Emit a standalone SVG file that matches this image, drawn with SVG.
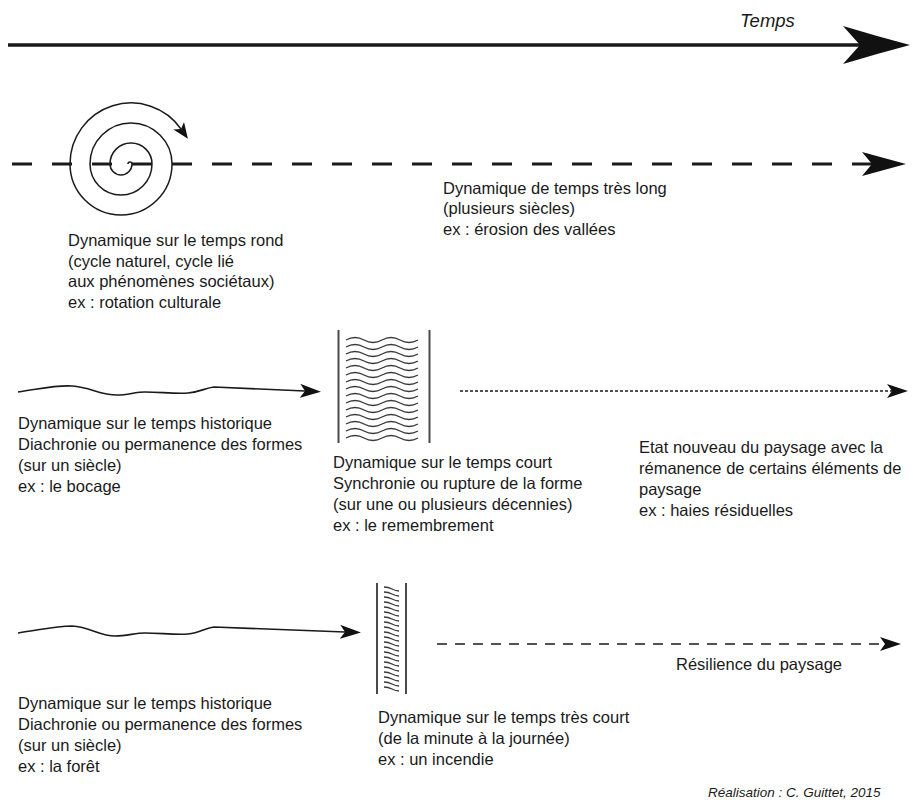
<svg xmlns="http://www.w3.org/2000/svg" width="913" height="802" viewBox="0 0 913 802">
<style>
.t{font-family:"Liberation Sans",Arial,Helvetica,sans-serif;font-size:16.5px;fill:#1a1a1a}
.ti{font-style:italic}
.ln{fill:none;stroke:#1a1a1a;stroke-linecap:butt}
.bar{stroke:#4a4a4a;stroke-width:2;fill:none}
.wv{fill:none;stroke:#3a3a3a;stroke-width:1.3}
.ah{fill:#111}
</style>
<defs>
<marker id="ahTop" markerUnits="userSpaceOnUse" markerWidth="67" markerHeight="38" viewBox="0 0 67 38" refX="17" refY="19" orient="auto"><path class="ah" d="M0,0 Q33,10 67,19 Q33,28 0,38 L17,19 z"/></marker>
<marker id="ahDash" markerUnits="userSpaceOnUse" markerWidth="44" markerHeight="24" viewBox="0 0 44 24" refX="10" refY="12" orient="auto"><path class="ah" d="M0,0 L44,12 L0,24 L10,12 z"/></marker>
<marker id="ahMid" markerUnits="userSpaceOnUse" markerWidth="21" markerHeight="14" viewBox="0 0 21 14" refX="5" refY="7" orient="auto"><path class="ah" d="M0,0 L21,7 L0,14 L5,7 z"/></marker>
<marker id="ahSp" markerUnits="userSpaceOnUse" markerWidth="16" markerHeight="13" viewBox="0 0 16 13" refX="4" refY="6.5" orient="auto"><path class="ah" d="M0,0 L16,6.5 L0,13 L4,6.5 z"/></marker>
</defs>
<rect width="913" height="802" fill="#ffffff"/>

<g id="connectors">
<path id="time-axis" class="ln" stroke-width="3.5" d="M8,45 H860" marker-end="url(#ahTop)"/>
<path id="long-time" class="ln" stroke-width="3" stroke-dasharray="20 20" d="M12,164 H872" marker-end="url(#ahDash)"/>
<path id="historic-1" class="ln" stroke-width="1.6" d="M18,392 C40,389 55,385 72,386 C90,387 100,395 117,395 C128,395 135,392 145,392 C160,392 175,394 188,393 C200,392 205,388 214,387 L305,391" marker-end="url(#ahMid)"/>
<path id="new-state" class="ln" stroke-width="1.5" stroke-dasharray="3 2" d="M460,391 H892" marker-end="url(#ahMid)"/>
<path id="historic-2" class="ln" stroke-width="1.6" d="M18,633 C40,630 55,626 72,626 C90,627 100,636 115,636 C127,636 135,633 145,633 C160,633 175,635 188,634 C200,633 205,628 214,627 L345,632" marker-end="url(#ahMid)"/>
<path id="resilience" class="ln" stroke-width="1.5" stroke-dasharray="10 8" d="M437,644 H885" marker-end="url(#ahMid)"/>
</g>

<g id="time-label"><text class="t ti" x="740" y="27" style="font-size:18.5px">Temps</text></g>

<g id="cycle-spiral">
<path class="ln" stroke-width="1.5" d="M128,164 A2,2 0 0 1 132,164 A11,11 0 0 1 110,164 A21,21 0 0 1 152,164 A31,31 0 0 1 90,164 A41,41 0 0 1 172,164 A51,51 0 0 1 70,164 A61,61 0 0 1 181,129" marker-end="url(#ahSp)"/>
</g>

<g id="short-time-block">
<line class="bar" x1="338.5" y1="330" x2="338.5" y2="443"/>
<line class="bar" x1="429.5" y1="330" x2="429.5" y2="443"/>
<path class="wv" d="M346,340 q9,-5 18,0 t18,0 t18,0 t18,0 M346,347 q9,-5 18,0 t18,0 t18,0 t18,0 M346,354 q9,-5 18,0 t18,0 t18,0 t18,0 M346,361 q9,-5 18,0 t18,0 t18,0 t18,0 M346,368 q9,-5 18,0 t18,0 t18,0 t18,0 M346,375 q9,-5 18,0 t18,0 t18,0 t18,0 M346,382 q9,-5 18,0 t18,0 t18,0 t18,0 M346,389 q9,-5 18,0 t18,0 t18,0 t18,0 M346,396 q9,-5 18,0 t18,0 t18,0 t18,0 M346,403 q9,-5 18,0 t18,0 t18,0 t18,0 M346,410 q9,-5 18,0 t18,0 t18,0 t18,0 M346,417 q9,-5 18,0 t18,0 t18,0 t18,0 M346,424 q9,-5 18,0 t18,0 t18,0 t18,0 M346,431 q9,-5 18,0 t18,0 t18,0 t18,0 M346,438 q9,-5 18,0 t18,0 t18,0 t18,0"/>
</g>

<g id="very-short-time-block">
<line class="bar" x1="377" y1="583" x2="377" y2="694"/>
<line class="bar" x1="406" y1="583" x2="406" y2="694"/>
<path class="wv" d="M384,587 q4,0 8,2 t7,2 M384,592 q4,0 8,2 t7,2 M384,597 q4,0 8,2 t7,2 M384,602 q4,0 8,2 t7,2 M384,607 q4,0 8,2 t7,2 M384,612 q4,0 8,2 t7,2 M384,617 q4,0 8,2 t7,2 M384,622 q4,0 8,2 t7,2 M384,627 q4,0 8,2 t7,2 M384,632 q4,0 8,2 t7,2 M384,637 q4,0 8,2 t7,2 M384,642 q4,0 8,2 t7,2 M384,647 q4,0 8,2 t7,2 M384,652 q4,0 8,2 t7,2 M384,657 q4,0 8,2 t7,2 M384,662 q4,0 8,2 t7,2 M384,667 q4,0 8,2 t7,2 M384,672 q4,0 8,2 t7,2 M384,677 q4,0 8,2 t7,2 M384,682 q4,0 8,2 t7,2 M384,687 q4,0 8,2 t7,2"/>
</g>

<g id="label-long">
<text class="t" x="443" y="193.5">Dynamique de temps très long</text>
<text class="t" x="443" y="214">(plusieurs siècles)</text>
<text class="t" x="443" y="234.5">ex : érosion des vallées</text>
</g>

<g id="label-round">
<text class="t" x="68" y="246">Dynamique sur le temps rond</text>
<text class="t" x="68" y="266.5">(cycle naturel, cycle lié</text>
<text class="t" x="68" y="287">aux phénomènes sociétaux)</text>
<text class="t" x="68" y="307.5">ex : rotation culturale</text>
</g>

<g id="label-historic-1">
<text class="t" x="18" y="429">Dynamique sur le temps historique</text>
<text class="t" x="18" y="450">Diachronie ou permanence des formes</text>
<text class="t" x="18" y="471">(sur un siècle)</text>
<text class="t" x="18" y="492">ex : le bocage</text>
</g>

<g id="label-short">
<text class="t" x="333" y="467.5">Dynamique sur le temps court</text>
<text class="t" x="333" y="488.5">Synchronie ou rupture de la forme</text>
<text class="t" x="333" y="510">(sur une ou plusieurs décennies)</text>
<text class="t" x="333" y="531">ex : le remembrement</text>
</g>

<g id="label-new-state">
<text class="t" x="639" y="452.5">Etat nouveau du paysage avec la</text>
<text class="t" x="639" y="473.5">rémanence de certains éléments de</text>
<text class="t" x="639" y="494.5">paysage</text>
<text class="t" x="639" y="515.5">ex : haies résiduelles</text>
</g>

<g id="label-resilience">
<text class="t" x="676" y="669.5">Résilience du paysage</text>
</g>

<g id="label-historic-2">
<text class="t" x="18" y="708.5">Dynamique sur le temps historique</text>
<text class="t" x="18" y="729.5">Diachronie ou permanence des formes</text>
<text class="t" x="18" y="751">(sur un siècle)</text>
<text class="t" x="18" y="772">ex : la forêt</text>
</g>

<g id="label-very-short">
<text class="t" x="378" y="722.5">Dynamique sur le temps très court</text>
<text class="t" x="378" y="743.5">(de la minute à la journée)</text>
<text class="t" x="378" y="764.5">ex : un incendie</text>
</g>

<g id="credit">
<text class="t ti" x="708" y="797" style="font-size:13.5px">Réalisation : C. Guittet, 2015</text>
</g>
</svg>
